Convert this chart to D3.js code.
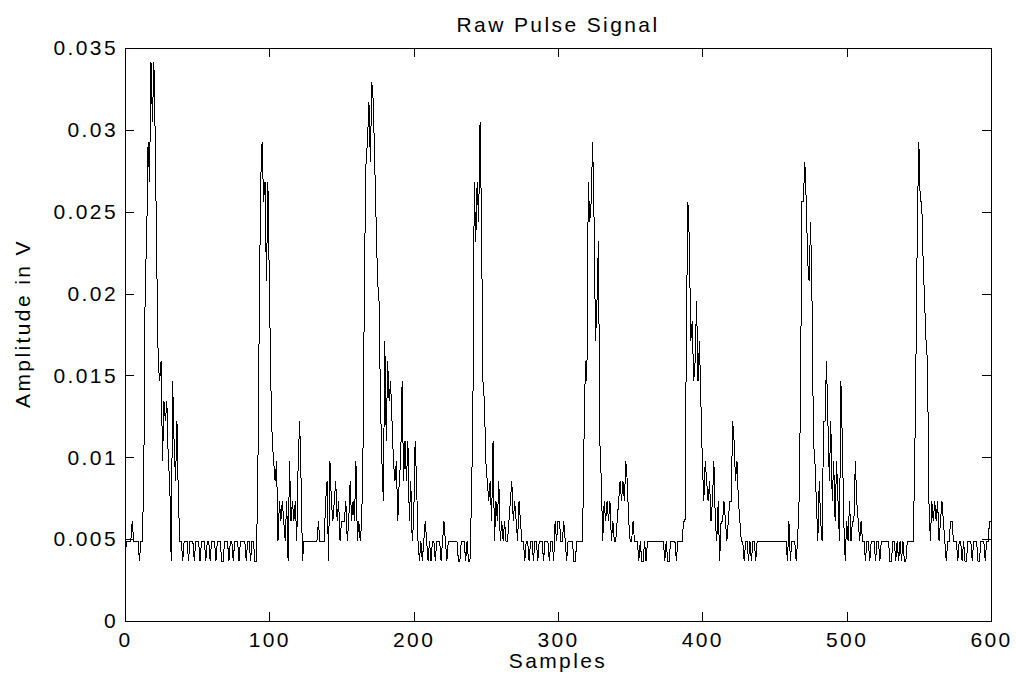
<!DOCTYPE html>
<html><head><meta charset="utf-8">
<script src="https://cdn.jsdelivr.net/npm/d3@7/dist/d3.min.js"></script>
<style>
body{margin:0;background:#fff}
svg text{font-family:"Liberation Sans",Arial,sans-serif;font-size:21px;letter-spacing:2.4px;fill:#000}
</style>
</head><body>
<svg id="chart" width="1016" height="684"></svg>
<script>
// ADC sample codes (one per sample, index 0..600)
const sampleCounts = [
 3,4,4,4,4,5,4,4,4,4, 3,4,4,7,17,19,24,22,28,25, 28,24,18,13,12,13,8,11,10,11, 8,7,3,12,9,7,10,6,4,
 4,3,4,4,4,3,4,4,4,3, 4,4,4,3,4,4,4,3,4,4, 3,4,4,4,3,4,4,4,3,3, 4,4,4,3,4,4,3,4,4,4, 3,4,4,4,4,3,4,4,3,4, 4,3,3,
 7,15,22,24,21,22,17,22,17,12, 9,8,7,8,4,6,5,6,5,4, 6,3,8,5,6,5,6,4,8,10, 7,3,4,4,4,4,4,4,4,4, 4,4,5,4,4,4,4,6,7,3, 8,6,5,6,
 7,5,6,4,5,5,5,6,4,5, 7,5,6,5,8,4,5,4,5,9, 18,23,24,26,23,27,26,23,20,17, 16,11,8,6,14,9,13,11,12,10, 8,7,8,5,7,8,12,7,9,7, 9,5,7,4,5,9,7,4,3,4, 3,4,5,4,3,
 4,3,4,4,3,4,4,4,3,4, 5,4,3,4,4,4,4,4,4,4, 3,3,4,4,4,3,4,3,3,6, 10,22,19,22,20,25,20,12,11,8, 7,6,7,5,9,4,6,5,7,4, 5,4,5,4,4,5,6,7,5,6, 5,4,6,5,4,4,3,4,4,3, 4,4,3,4,4,3,4,4,4,3, 4,4,4,3,4,
 4,3,5,4,5,5,4,4,5,4, 3,4,4,4,4,3,3,4,4,4, 4,4,9,13,12,22,20,21,24,20, 14,16,19,9,7,4,6,5,6,5, 6,4,5,4,4,5,6,7,6,7, 6,8,7,5,4,4,5,4,4,4, 3,4,3,3,4,3,4,4,4,4, 4,4,4,4,4,4,4,
 4,3,4,3,3,4,4,4,4,3, 4,4,4,4,5,5,15,21,19,14, 15,12,13,16,12,14,11,8,6,8, 7,6,7,5,6,8,5,4,6,3, 5,5,6,5,4,5,6,6,10,9, 7,8,6,5,4,4,3,4,4,3, 4,3,4,4,3,4,4,4,4,4, 4,4,4,
 4,4,4,4,4,4,4,4,4,4, 4,4,4,3,5,3,4,4,4,3, 4,6,11,21,21,23,21,18,17,20, 16,9,8,6,4,7,5,4,10,10, 13,10,7,10,6,8,5,8,6,4, 12,9,5,3,5,4,6,4,5,5, 8,6,5,4,5,4,4,3,4,4, 3,4,4,4,3,
 4,4,3,4,4,4,4,4,4,3, 3,4,4,3,4,3,4,3,4,3, 3,4,4,4,4,4,7,13,20,24, 21,21,18,16,14,13,6,4,6,5, 6,5,6,4,5,6,5,4,3,4, 4,5,5,4,4,4,3,4,4,3, 4,3,3,4,4,4,3,4,4,4, 3,3,4,4,4,3,4,4,5,5
];
const voltsPerCount = 0.00122;
const xTicks = [0,100,200,300,400,500,600];
const xTickLabels = ["0","100","200","300","400","500","600"];
const yTicks = [0,0.005,0.01,0.015,0.02,0.025,0.03,0.035];
const yTickLabels = ["0","0.005","0.01","0.015","0.02","0.025","0.03","0.035"];
const titleText = "Raw Pulse Signal";
const xLabelText = "Samples";
const yLabelText = "Amplitude in V";

const signal = sampleCounts.map((c, i) => ({sample: i, volts: c * voltsPerCount}));

const M = {left:125, top:48, right:1016-991, bottom:684-621};
const W = 1016 - M.left - M.right, H = 684 - M.top - M.bottom;
const svg = d3.select("#chart");
const g = svg.append("g").attr("transform", `translate(${M.left},${M.top})`);

const x = d3.scaleLinear().domain([0,600]).range([0,W]);
const y = d3.scaleLinear().domain([0,0.035]).range([H,0]);

g.append("path").datum(signal)
 .attr("fill","none").attr("stroke","#000").attr("stroke-width",1)
 .attr("shape-rendering","crispEdges")
 .attr("d", d3.line().x(d=>x(d.sample)).y(d=>y(d.volts)));

function styleAxis(sel){
  sel.selectAll("path,line").attr("stroke","#000").attr("stroke-width",1).attr("shape-rendering","crispEdges");
  sel.selectAll("text").attr("fill","#000").attr("font-family",null).attr("font-size",null);
}
g.append("g").attr("transform",`translate(0,${H})`)
 .call(d3.axisBottom(x).tickValues(xTicks).tickFormat((d,i)=>xTickLabels[i]).tickSize(-9).tickSizeOuter(0).tickPadding(11))
 .call(styleAxis);
g.append("g")
 .call(d3.axisTop(x).tickValues(xTicks).tickFormat("").tickSize(-9).tickSizeOuter(0))
 .call(styleAxis);
g.append("g")
 .call(d3.axisLeft(y).tickValues(yTicks).tickFormat((d,i)=>yTickLabels[i]).tickSize(-9).tickSizeOuter(0).tickPadding(7))
 .call(styleAxis);
g.append("g").attr("transform",`translate(${W},0)`)
 .call(d3.axisRight(y).tickValues(yTicks).tickFormat("").tickSize(-9).tickSizeOuter(0))
 .call(styleAxis);

svg.append("text").attr("x", M.left + W/2).attr("y", 32).attr("text-anchor","middle").text(titleText);
svg.append("text").attr("x", M.left + W/2).attr("y", 668).attr("text-anchor","middle").text(xLabelText);
svg.append("text").attr("transform","translate(30,408) rotate(-90)").attr("text-anchor","start").text(yLabelText);
</script>
</body></html>
